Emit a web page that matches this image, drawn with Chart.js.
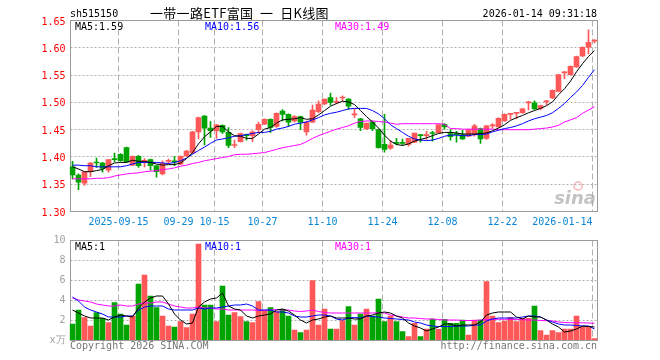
<!DOCTYPE html>
<html><head><meta charset="utf-8">
<script src="https://cdn.jsdelivr.net/npm/chart.js@4.4.1/dist/chart.umd.min.js"></script>
<style>
html,body{margin:0;padding:0;background:#fff;}
#wrap{position:relative;width:660px;height:360px;overflow:hidden;}
canvas{position:absolute;left:0;}
#k{top:0;} #v{top:230px;}
</style></head><body>
<div id="wrap"><canvas id="k" width="660" height="230"></canvas><canvas id="v" width="660" height="130"></canvas></div>
<script>
const codeText = 'sh515150';
const titleText = '一带一路ETF富国 一 日K线图';
const stampText = '2026-01-14 09:31:18';
const footLeft = 'Copyright 2026 SINA.COM';
const footRight = 'http://finance.sina.com.cn';

const dates = ['2025-09-03','2025-09-04','2025-09-05','2025-09-08','2025-09-09','2025-09-10','2025-09-11','2025-09-12','2025-09-15','2025-09-16',
'2025-09-17','2025-09-18','2025-09-19','2025-09-22','2025-09-23','2025-09-24','2025-09-25','2025-09-26','2025-09-29','2025-09-30',
'2025-10-09','2025-10-10','2025-10-13','2025-10-14','2025-10-15','2025-10-16','2025-10-17','2025-10-20','2025-10-21','2025-10-22',
'2025-10-23','2025-10-24','2025-10-27','2025-10-28','2025-10-29','2025-10-30','2025-10-31','2025-11-03','2025-11-04','2025-11-05',
'2025-11-06','2025-11-07','2025-11-10','2025-11-11','2025-11-12','2025-11-13','2025-11-14','2025-11-17','2025-11-18','2025-11-19',
'2025-11-20','2025-11-21','2025-11-24','2025-11-25','2025-11-26','2025-11-27','2025-11-28','2025-12-01','2025-12-02','2025-12-03',
'2025-12-04','2025-12-05','2025-12-08','2025-12-09','2025-12-10','2025-12-11','2025-12-12','2025-12-15','2025-12-16','2025-12-17',
'2025-12-18','2025-12-19','2025-12-22','2025-12-23','2025-12-24','2025-12-25','2025-12-26','2025-12-29','2025-12-30','2025-12-31',
'2026-01-05','2026-01-06','2026-01-07','2026-01-08','2026-01-09','2026-01-12','2026-01-13','2026-01-14'];

const openP = [1.381,1.366,1.351,1.372,1.389,1.388,1.375,1.395,1.404,1.416,
1.384,1.400,1.391,1.394,1.383,1.368,1.391,1.391,1.386,1.401,
1.407,1.445,1.474,1.452,1.447,1.457,1.444,1.420,1.427,1.440,
1.438,1.449,1.459,1.468,1.455,1.483,1.477,1.465,1.473,1.445,
1.463,1.482,1.496,1.508,1.499,1.507,1.505,1.476,1.469,1.451,
1.463,1.449,1.422,1.415,1.425,1.425,1.422,1.426,1.439,1.438,
1.443,1.443,1.459,1.442,1.441,1.440,1.437,1.440,1.451,1.433,
1.456,1.454,1.465,1.477,1.479,1.480,1.498,1.498,1.488,1.500,
1.507,1.519,1.553,1.550,1.564,1.584,1.600,1.611];
const highP = [1.391,1.368,1.372,1.389,1.397,1.389,1.394,1.406,1.405,1.417,
1.401,1.402,1.396,1.395,1.384,1.392,1.395,1.400,1.401,1.411,
1.446,1.472,1.475,1.464,1.459,1.458,1.453,1.430,1.443,1.441,
1.447,1.463,1.469,1.469,1.480,1.486,1.478,1.475,1.474,1.465,
1.494,1.502,1.505,1.516,1.508,1.511,1.506,1.488,1.470,1.461,
1.465,1.450,1.477,1.429,1.433,1.432,1.433,1.443,1.440,1.446,
1.446,1.459,1.460,1.449,1.446,1.448,1.450,1.459,1.452,1.457,
1.460,1.471,1.478,1.479,1.481,1.488,1.501,1.502,1.494,1.503,
1.522,1.550,1.556,1.566,1.584,1.601,1.632,1.614];
const lowP = [1.359,1.339,1.347,1.363,1.380,1.371,1.371,1.390,1.391,1.389,
1.383,1.380,1.381,1.375,1.362,1.366,1.386,1.383,1.385,1.400,
1.405,1.432,1.421,1.435,1.433,1.442,1.416,1.416,1.426,1.430,
1.427,1.443,1.458,1.444,1.453,1.465,1.455,1.463,1.449,1.439,
1.462,1.480,1.495,1.494,1.496,1.502,1.486,1.471,1.447,1.449,
1.447,1.415,1.408,1.413,1.421,1.421,1.419,1.425,1.426,1.431,
1.428,1.443,1.450,1.430,1.426,1.431,1.436,1.437,1.424,1.431,
1.452,1.453,1.464,1.468,1.469,1.479,1.485,1.486,1.485,1.495,
1.506,1.518,1.542,1.549,1.563,1.583,1.588,1.608];
const closeP = [1.366,1.353,1.372,1.388,1.388,1.378,1.394,1.394,1.392,1.390,
1.400,1.383,1.392,1.383,1.372,1.388,1.392,1.390,1.400,1.410,
1.445,1.471,1.452,1.447,1.458,1.445,1.420,1.421,1.442,1.438,
1.445,1.459,1.468,1.453,1.479,1.477,1.463,1.473,1.463,1.463,
1.485,1.496,1.505,1.499,1.500,1.508,1.492,1.477,1.453,1.461,
1.451,1.416,1.413,1.421,1.424,1.424,1.433,1.443,1.438,1.439,
1.442,1.458,1.454,1.436,1.440,1.432,1.449,1.456,1.432,1.456,
1.457,1.470,1.477,1.478,1.480,1.487,1.499,1.487,1.493,1.501,
1.521,1.550,1.554,1.565,1.583,1.600,1.609,1.613];

const ma5 = [1.381,1.377,1.372,1.372,1.374,1.376,1.383,1.388,1.389,1.389,
1.393,1.391,1.391,1.389,1.386,1.384,1.385,1.385,1.388,1.396,
1.407,1.423,1.436,1.445,1.455,1.455,1.445,1.438,1.437,1.433,
1.433,1.441,1.450,1.453,1.461,1.467,1.468,1.469,1.471,1.468,
1.469,1.476,1.484,1.492,1.497,1.501,1.500,1.495,1.484,1.473,
1.463,1.452,1.439,1.428,1.422,1.420,1.423,1.428,1.431,1.434,
1.438,1.442,1.444,1.444,1.443,1.441,1.441,1.441,1.442,1.443,
1.447,1.452,1.458,1.466,1.471,1.475,1.480,1.484,1.488,1.493,
1.500,1.513,1.524,1.538,1.555,1.570,1.583,1.594];
const ma10 = [1.384,1.384,1.383,1.383,1.381,1.381,1.381,1.381,1.381,1.383,
1.386,1.389,1.389,1.389,1.389,1.388,1.387,1.389,1.392,1.397,
1.404,1.411,1.417,1.424,1.430,1.432,1.434,1.437,1.438,1.440,
1.442,1.444,1.444,1.446,1.450,1.452,1.455,1.459,1.461,1.463,
1.467,1.471,1.476,1.479,1.481,1.484,1.487,1.488,1.488,1.488,
1.484,1.478,1.469,1.458,1.451,1.444,1.437,1.432,1.430,1.429,
1.430,1.433,1.437,1.439,1.439,1.438,1.438,1.440,1.440,1.441,
1.445,1.448,1.451,1.453,1.456,1.460,1.465,1.469,1.472,1.475,
1.480,1.488,1.497,1.508,1.518,1.530,1.545,1.559];
const ma30 = [1.359,1.359,1.359,1.359,1.360,1.360,1.361,1.364,1.366,1.368,
1.369,1.370,1.372,1.373,1.374,1.376,1.377,1.379,1.382,1.384,
1.387,1.389,1.392,1.394,1.396,1.398,1.400,1.403,1.404,1.404,
1.405,1.406,1.407,1.410,1.413,1.416,1.418,1.420,1.422,1.427,
1.433,1.438,1.442,1.446,1.450,1.453,1.456,1.461,1.464,1.465,
1.465,1.464,1.463,1.461,1.459,1.460,1.460,1.460,1.460,1.460,
1.460,1.460,1.459,1.451,1.451,1.450,1.450,1.450,1.450,1.450,
1.450,1.449,1.449,1.449,1.449,1.449,1.449,1.450,1.451,1.452,
1.454,1.457,1.463,1.467,1.471,1.479,1.485,1.491];

const volume = [1.6,3.0,2.23,1.4,2.73,2.17,1.73,3.73,2.6,1.5,
2.4,5.6,6.5,4.4,3.23,2.4,1.4,1.3,1.83,1.23,
2.6,9.6,3.5,3.5,1.83,5.4,2.5,2.73,2.33,1.83,
1.73,3.83,3.0,3.23,2.83,3.07,2.4,1.0,0.73,1.0,
5.93,1.5,3.1,1.1,1.1,1.93,3.33,1.5,2.6,3.1,
2.4,4.1,1.83,2.4,1.83,0.83,0.33,1.67,0.33,1.1,
2.1,1.07,2.07,1.67,1.67,2.0,0.5,2.0,2.0,5.83,
2.4,1.73,1.9,2.27,1.83,2.17,2.17,3.4,0.93,0.5,
0.93,0.73,1.1,1.1,2.4,1.33,1.33,0.13];
const volMa5 = [3.0,2.7,2.4,2.2,2.2,2.2,2.0,2.3,2.5,2.4,
2.3,3.2,3.8,4.2,4.4,4.4,3.6,2.6,2.0,1.6,
1.7,3.3,3.8,4.1,4.2,4.7,3.4,3.1,3.0,2.4,
2.2,2.4,2.5,2.6,3.0,3.1,2.9,2.5,2.0,1.7,
2.0,2.1,2.3,2.4,2.2,2.2,2.2,2.1,2.1,2.4,
2.5,2.7,2.8,2.7,2.4,2.2,1.7,1.4,1.2,0.9,
1.1,1.3,1.6,1.6,1.4,1.5,1.5,1.5,1.8,2.5,
2.7,2.8,2.8,2.8,2.3,2.1,2.4,2.3,2.3,2.0,
1.6,1.3,0.8,0.9,1.1,1.4,1.35,1.3];
const volMa10 = [4.3,3.9,3.3,3.0,2.8,2.6,2.3,2.3,2.3,2.4,
2.4,3.0,3.3,3.4,3.4,3.4,3.1,3.0,3.0,3.0,
3.0,3.2,3.1,3.2,3.2,3.3,3.4,3.5,3.5,3.6,
3.4,3.0,3.0,3.0,2.8,2.8,2.7,2.4,2.3,2.3,
2.4,2.5,2.5,2.4,2.1,2.0,2.2,2.25,2.2,2.4,
2.35,2.3,2.2,2.15,2.1,2.05,2.0,1.8,1.7,1.5,
1.4,1.35,1.35,1.35,1.4,1.4,1.4,1.5,1.5,1.9,
2.1,2.2,2.2,2.2,2.2,2.3,2.4,2.4,2.3,2.0,
1.8,1.6,1.5,1.5,1.45,1.4,1.4,1.1];
const volMa30 = [4.2,4.0,3.9,3.8,3.6,3.5,3.4,3.4,3.5,3.4,
3.4,3.6,3.7,3.7,3.8,3.8,3.6,3.4,3.3,3.2,
3.2,3.3,3.2,3.2,3.1,3.1,3.0,3.0,3.0,3.0,
3.0,2.95,2.95,3.0,3.05,3.0,3.0,2.9,2.85,2.9,
3.0,2.85,2.75,2.7,2.7,2.7,2.7,2.7,2.7,2.7,
2.7,2.73,2.7,2.5,2.4,2.3,2.2,2.2,2.15,2.1,
2.1,2.05,2.0,2.0,2.0,1.95,1.95,1.95,2.0,2.05,
2.07,2.07,2.07,2.07,2.05,2.03,2.0,2.0,1.95,1.93,
1.9,1.8,1.75,1.73,1.73,1.72,1.7,1.67];

const xTickDates = ['2025-09-15','2025-09-29','2025-10-15','2025-10-27','2025-11-10','2025-11-24','2025-12-08','2025-12-22','2026-01-14'];
const xTickLabels = ['2025-09-15','09-29','10-15','10-27','11-10','11-24','12-08','12-22','2026-01-14'];
const priceGrid = [1.35,1.40,1.45,1.50,1.55,1.60];
const volGrid = [2,4,6,8];

const RED = '#ff5858', GREEN = '#00a400';
const BLUE = '#0000ff', MAGENTA = '#ff00ff';
const MONO = '"DejaVu Sans Mono", monospace';
const candleColors = closeP.map((c, i) => c >= openP[i] ? RED : GREEN);

function frame(chart, hGrid) {
  const {ctx, chartArea: a, scales} = chart;
  const x = scales.x, y = scales.y;
  const L = Math.round(a.left) + 0.5, R = Math.round(a.right) - 0.5;
  const T = Math.round(a.top) + 0.5, B = Math.round(a.bottom) + 0.5;
  ctx.save();
  ctx.lineWidth = 1;
  ctx.strokeStyle = '#b0b0b0';
  ctx.setLineDash([2, 2]);
  hGrid.forEach(v => {
    const py = Math.round(y.getPixelForValue(v)) + 0.5;
    ctx.beginPath(); ctx.moveTo(L, py); ctx.lineTo(R, py); ctx.stroke();
  });
  ctx.setLineDash([6, 3]);
  xTickDates.forEach(d => {
    const i = dates.indexOf(d);
    const px = Math.round(x.getPixelForValue(i) - 2.5) + 0.5;
    ctx.beginPath(); ctx.moveTo(px, T); ctx.lineTo(px, B); ctx.stroke();
  });
  ctx.setLineDash([]);
  ctx.strokeStyle = '#9a9a9a';
  ctx.strokeRect(L, T, R - L, B - T);
  ctx.restore();
}

const pricePlugin = {
  id: 'priceDecor',
  beforeDatasetsDraw(chart) {
    frame(chart, priceGrid);
    const ctx = chart.ctx;
    ctx.save();
    ctx.fillStyle = 'rgba(175,175,175,0.75)';
    ctx.font = 'italic bold 18px "DejaVu Sans"';
    ctx.textAlign = 'right'; ctx.textBaseline = 'alphabetic';
    ctx.fillText('sina', 596, 204);
    ctx.strokeStyle = 'rgba(235,120,120,0.55)'; ctx.lineWidth = 1.5;
    ctx.beginPath(); ctx.arc(578, 186, 4, 0, Math.PI * 2); ctx.stroke();
    ctx.restore();
  },
  afterDraw(chart) {
    const {ctx, scales} = chart;
    const x = scales.x;
    ctx.save();
    ctx.textBaseline = 'alphabetic';
    ctx.font = '10px ' + MONO;
    ctx.fillStyle = '#000';
    ctx.textAlign = 'left';
    ctx.fillText(codeText, 70, 17);
    ctx.textAlign = 'right';
    ctx.fillText(stampText, 597, 17);
    ctx.textAlign = 'left';
    ctx.font = '13px "Noto Sans CJK SC"';
    try { ctx.letterSpacing = '0.3px'; } catch (e) {}
    ctx.fillText(titleText.replace(/ /g, '\u2002'), 150, 18);
    try { ctx.letterSpacing = '0px'; } catch (e) {}
    ctx.font = '10px ' + MONO;
    ctx.fillStyle = '#000'; ctx.fillText('MA5:' + ma5[ma5.length - 1].toFixed(2), 75, 30);
    ctx.fillStyle = BLUE; ctx.fillText('MA10:' + ma10[ma10.length - 1].toFixed(2), 205, 30);
    ctx.fillStyle = MAGENTA; ctx.fillText('MA30:' + ma30[ma30.length - 1].toFixed(2), 335, 30);
    ctx.fillStyle = '#0a86d6';
    xTickDates.forEach((d, k) => {
      const i = dates.indexOf(d);
      const px = Math.round(x.getPixelForValue(i) - 2.5) + 0.5;
      ctx.textAlign = (k === xTickDates.length - 1) ? 'right' : 'center';
      ctx.fillText(xTickLabels[k], px, 225);
    });
    ctx.restore();
  }
};

const volPlugin = {
  id: 'volDecor',
  beforeDatasetsDraw(chart) { frame(chart, volGrid); },
  afterDraw(chart) {
    const ctx = chart.ctx;
    ctx.save();
    ctx.textBaseline = 'alphabetic';
    ctx.font = '10px ' + MONO;
    ctx.textAlign = 'left';
    ctx.fillStyle = '#000'; ctx.fillText('MA5:' + Math.floor(volMa5[volMa5.length - 1]), 75, 20);
    ctx.fillStyle = BLUE; ctx.fillText('MA10:' + Math.floor(volMa10[volMa10.length - 1]), 205, 20);
    ctx.fillStyle = MAGENTA; ctx.fillText('MA30:' + Math.floor(volMa30[volMa30.length - 1]), 335, 20);
    ctx.fillStyle = '#777';
    ctx.fillText(footLeft, 70, 119);
    ctx.textAlign = 'right';
    ctx.fillText(footRight, 597, 119);
    ctx.restore();
  }
};

function lineDs(data, color) {
  return {type: 'line', data, borderColor: color, borderWidth: 1, pointRadius: 0, tension: 0, fill: false, order: 0};
}

const common = {
  responsive: false, animation: false, devicePixelRatio: 1, events: [],
  plugins: {legend: {display: false}, tooltip: {enabled: false}}
};

new Chart(document.getElementById('k'), {
  type: 'bar',
  data: {
    labels: dates,
    datasets: [
      lineDs(ma5, '#000000'),
      lineDs(ma10, BLUE),
      lineDs(ma30, MAGENTA),
      {type: 'bar', data: openP.map((o, i) => [o, closeP[i]]), backgroundColor: candleColors,
       barThickness: 5, minBarLength: 1, grouped: false, order: 1},
      {type: 'bar', data: lowP.map((l, i) => [l, highP[i]]), backgroundColor: candleColors,
       barThickness: 1, grouped: false, order: 2}
    ]
  },
  options: Object.assign({}, common, {
    layout: {padding: {left: 0, right: 62.5, top: 20, bottom: 19}},
    scales: {
      x: {type: 'category', offset: true, display: false},
      y: {min: 1.30, max: 1.65, afterFit(s) { s.width = 69.5; },
          grid: {display: false, drawTicks: false}, border: {display: false},
          ticks: {stepSize: 0.05, color: '#ff0000', padding: 4, labelOffset: 2, font: {family: 'DejaVu Sans Mono', size: 10},
                  callback: v => Number(v).toFixed(2)}}
    }
  }),
  plugins: [pricePlugin]
});

new Chart(document.getElementById('v'), {
  type: 'bar',
  data: {
    labels: dates,
    datasets: [
      lineDs(volMa5, '#000000'),
      lineDs(volMa10, BLUE),
      lineDs(volMa30, MAGENTA),
      {type: 'bar', data: volume, backgroundColor: candleColors, barThickness: 5, grouped: false, order: 1}
    ]
  },
  options: Object.assign({}, common, {
    layout: {padding: {left: 0, right: 62.5, top: 10, bottom: 20}},
    scales: {
      x: {type: 'category', offset: true, display: false},
      y: {min: 0, max: 10, afterFit(s) { s.width = 69.5; },
          grid: {display: false, drawTicks: false}, border: {display: false},
          ticks: {stepSize: 2, color: '#a0a0a0', padding: 4, font: {family: 'DejaVu Sans Mono', size: 10},
                  callback: v => v === 0 ? 'x万' : String(v)}}
    }
  }),
  plugins: [volPlugin]
});
</script>
</body></html>
